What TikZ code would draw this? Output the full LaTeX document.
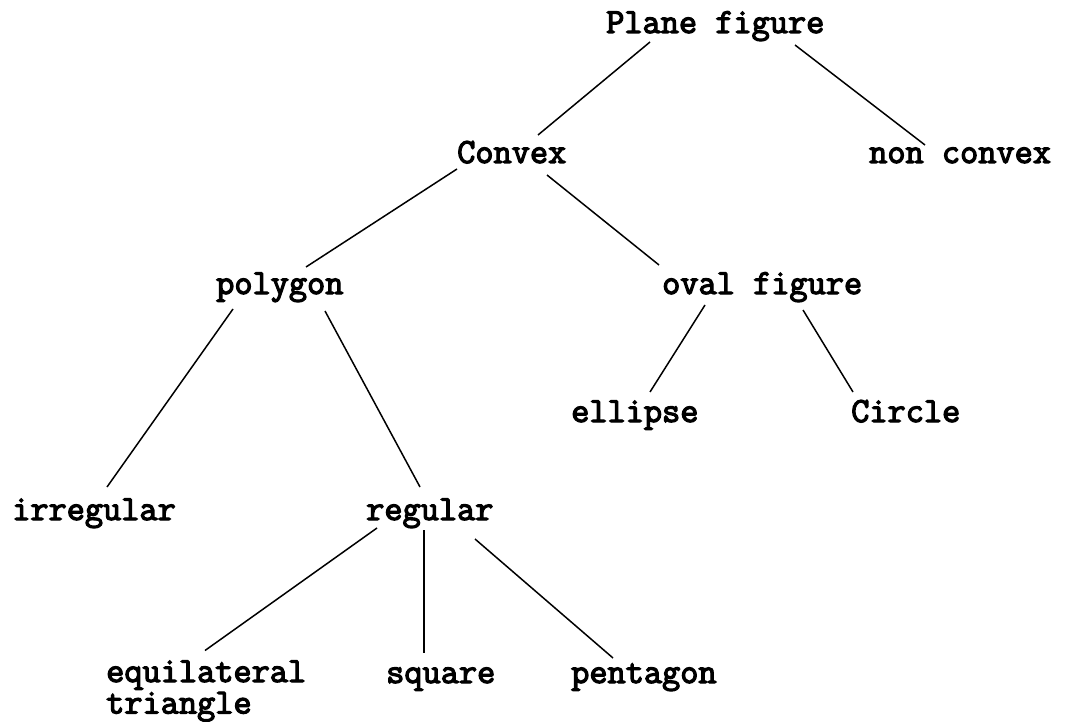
\documentclass[tikz,border=0pt]{standalone}
\usepackage{fontspec}
\newfontfamily\twfont{Latin Modern Mono}[FakeBold=3.5]
\begin{document}
\begin{tikzpicture}[x=1pt,y=-1pt,
  lbl/.style={anchor=base west,inner sep=0pt,align=left,font=\twfont\fontsize{35.3}{31.5}\selectfont},
  edge/.style={line width=1.5pt,black}]
\useasboundingbox[fill=white] (0,0) rectangle (1078,722);
\node[lbl] (pf) at (606,33) {Plane figure};
\node[lbl] (cv) at (457,163) {Convex};
\node[lbl] (nc) at (869,163) {non convex};
\node[lbl] (pg) at (216,294) {polygon};
\node[lbl] (of) at (662,294) {oval figure};
\node[lbl] (el) at (571,422) {ellipse};
\node[lbl] (ci) at (851,422) {Circle};
\node[lbl] (ir) at (12,520) {irregular};
\node[lbl] (rg) at (366,520) {regular};
\node[lbl] (eq) at (106,713.5) {equilateral\\triangle};
\node[lbl] (sq) at (386,683) {square};
\node[lbl] (pn) at (571,683) {pentagon};
\draw[edge] ([shift={(44,9)}]pf.base west) -- ([shift={(81,-28)}]cv.base west);
\draw[edge] ([shift={(189,12)}]pf.base west) -- ([shift={(56,-18)}]nc.base west);
\draw[edge] ([shift={(0,6)}]cv.base west) -- ([shift={(90,-27)}]pg.base west);
\draw[edge] ([shift={(90,12)}]cv.base west) -- ([shift={(-3,-29)}]of.base west);
\draw[edge] ([shift={(17,15)}]pg.base west) -- ([shift={(95,-33)}]ir.base west);
\draw[edge] ([shift={(109,17)}]pg.base west) -- ([shift={(54,-33)}]rg.base west);
\draw[edge] ([shift={(43,11)}]of.base west) -- ([shift={(79,-30)}]el.base west);
\draw[edge] ([shift={(141,16)}]of.base west) -- ([shift={(2,-30)}]ci.base west);
\draw[edge] ([shift={(11,8)}]rg.base west) -- ([shift={(99,-63)}]eq.base west);
\draw[edge] ([shift={(58,10)}]rg.base west) -- ([shift={(38,-30)}]sq.base west);
\draw[edge] ([shift={(109,19)}]rg.base west) -- ([shift={(42,-25)}]pn.base west);
\end{tikzpicture}
\end{document}
